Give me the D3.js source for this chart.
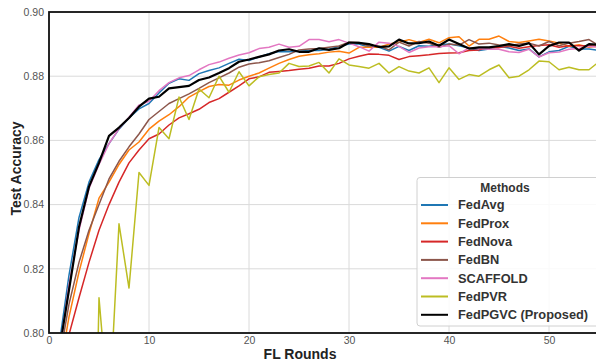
<!DOCTYPE html>
<html><head><meta charset="utf-8">
<script src="https://cdn.jsdelivr.net/npm/d3@7"></script>
<style>html,body{margin:0;padding:0;background:#fff;}svg{display:block;font-family:"Liberation Sans",Arial,sans-serif;}</style>
</head><body>
<svg id="chart" width="596" height="362"></svg>
<script>
const rounds = d3.range(1, 56);
const xTicks = [0, 10, 20, 30, 40, 50];
const yTicks = [0.80, 0.82, 0.84, 0.86, 0.88, 0.90];
const methods = ["FedAvg", "FedProx", "FedNova", "FedBN", "SCAFFOLD", "FedPVR", "FedPGVC (Proposed)"];
const colors = ["#1f77b4", "#ff7f0e", "#d62728", "#8c564b", "#e377c2", "#bcbd22", "#000000"];

const fedAvg = [0.796,0.818,0.836,0.847,0.854,0.859,0.8635,0.867,0.8698,0.8715,0.8748,0.8778,0.8792,0.8787,0.8808,0.8818,0.8826,0.884,0.8853,0.8849,0.886,0.887,0.8877,0.8876,0.8878,0.888,0.888,0.8884,0.8893,0.890,0.890,0.889,0.889,0.8878,0.8893,0.888,0.8895,0.8893,0.8898,0.890,0.8895,0.8888,0.888,0.8885,0.8893,0.8888,0.888,0.8885,0.886,0.8876,0.888,0.8893,0.8885,0.8885,0.888];
const fedProx = [0.787,0.805,0.819,0.831,0.842,0.847,0.8525,0.857,0.8595,0.8635,0.866,0.868,0.8705,0.8735,0.8752,0.8768,0.8774,0.8772,0.8788,0.880,0.881,0.8825,0.884,0.8852,0.8862,0.8867,0.887,0.8875,0.8878,0.8872,0.889,0.889,0.889,0.890,0.8906,0.8914,0.8905,0.8915,0.8904,0.892,0.8923,0.8894,0.8915,0.8915,0.8925,0.8908,0.8905,0.891,0.8915,0.891,0.8903,0.8893,0.8898,0.889,0.8895];
const fedNova = [0.775,0.7995,0.811,0.822,0.832,0.840,0.847,0.853,0.857,0.8605,0.862,0.8648,0.867,0.8683,0.8697,0.8718,0.873,0.875,0.877,0.8792,0.8798,0.8812,0.8815,0.8818,0.8822,0.8825,0.8832,0.8832,0.884,0.8854,0.8862,0.8869,0.8868,0.8865,0.8852,0.8861,0.8864,0.8867,0.8871,0.8872,0.8873,0.888,0.8882,0.8889,0.8889,0.8893,0.8887,0.8892,0.8896,0.8898,0.889,0.8895,0.8895,0.8896,0.890];
const fedBN = [0.791,0.809,0.822,0.832,0.840,0.848,0.8535,0.858,0.862,0.8665,0.869,0.8715,0.873,0.8745,0.8762,0.878,0.8795,0.881,0.8828,0.8838,0.8842,0.8848,0.8858,0.8868,0.8882,0.8885,0.8886,0.889,0.8894,0.8906,0.8905,0.8894,0.8894,0.8882,0.8906,0.8894,0.8908,0.8903,0.889,0.890,0.8897,0.8914,0.890,0.8903,0.8897,0.8895,0.890,0.8903,0.8894,0.8908,0.8895,0.8903,0.8908,0.8914,0.8895];
const scaffold = [0.793,0.815,0.832,0.845,0.8525,0.859,0.8637,0.8672,0.871,0.8722,0.8755,0.878,0.8795,0.8802,0.882,0.8836,0.8844,0.8856,0.8866,0.8873,0.8886,0.889,0.890,0.889,0.8893,0.8914,0.8914,0.8907,0.8914,0.8903,0.8892,0.8878,0.8906,0.8903,0.8893,0.8874,0.8888,0.8892,0.8892,0.8895,0.887,0.8888,0.8886,0.8884,0.8884,0.8876,0.8874,0.8884,0.886,0.8873,0.8875,0.8884,0.8886,0.8893,0.889];
const fedPVR = [0.62,0.64,0.65,0.66,0.811,0.774,0.834,0.814,0.850,0.846,0.864,0.8605,0.8735,0.8665,0.876,0.8733,0.880,0.875,0.8814,0.877,0.8798,0.8805,0.881,0.884,0.883,0.8832,0.8843,0.881,0.8854,0.8835,0.883,0.8825,0.884,0.881,0.883,0.8816,0.881,0.8826,0.878,0.8826,0.879,0.8805,0.880,0.882,0.8835,0.8795,0.880,0.882,0.8847,0.8845,0.882,0.8828,0.882,0.882,0.8845];
const fedPGVC = [0.794,0.8134,0.833,0.8456,0.853,0.8614,0.864,0.867,0.8705,0.873,0.8736,0.8762,0.8766,0.877,0.8788,0.8796,0.881,0.8825,0.8845,0.8852,0.886,0.8868,0.888,0.8884,0.8876,0.8876,0.8887,0.8882,0.8887,0.8905,0.8904,0.890,0.8891,0.8893,0.8914,0.8902,0.8903,0.8908,0.8895,0.8914,0.890,0.8886,0.889,0.889,0.8894,0.890,0.8894,0.8903,0.8868,0.8894,0.8905,0.8905,0.888,0.890,0.8898];
const seriesValues = [fedAvg, fedProx, fedNova, fedBN, scaffold, fedPVR, fedPGVC];

const svg = d3.select("#chart");
const pL = 49, pR = 599, pT = 12, pB = 333;
const x = d3.scaleLinear().domain([0, 55]).range([pL, pR]);
const y = d3.scaleLinear().domain([0.80, 0.90]).range([pB, pT]);

svg.append("defs").append("clipPath").attr("id", "clip")
  .append("rect").attr("x", pL).attr("y", pT).attr("width", pR - pL).attr("height", pB - pT);

// grid
const grid = svg.append("g");
grid.selectAll(".gx").data(xTicks).join("line")
  .attr("x1", d => x(d)).attr("x2", d => x(d)).attr("y1", pT).attr("y2", pB)
  .attr("stroke", "#dadada").attr("stroke-width", 1);
grid.selectAll(".gy").data(yTicks).join("line")
  .attr("x1", pL).attr("x2", pR).attr("y1", d => y(d)).attr("y2", d => y(d))
  .attr("stroke", "#dadada").attr("stroke-width", 1);

// lines
const line = d3.line().x((d, i) => x(rounds[i])).y(d => y(d));
const lines = svg.append("g").attr("clip-path", "url(#clip)");
seriesValues.forEach((vals, k) => {
  lines.append("path").datum(vals)
    .attr("d", line).attr("fill", "none")
    .attr("stroke", colors[k])
    .attr("stroke-width", k === 6 ? 2.2 : 1.5)
    .attr("stroke-linejoin", "round");
});

// frame
svg.append("rect").attr("x", pL).attr("y", pT).attr("width", pR - pL).attr("height", pB - pT)
  .attr("fill", "none").attr("stroke", "#111").attr("stroke-width", 1.8);

// axes
const xAxis = svg.append("g").attr("transform", `translate(0,${pB})`)
  .call(d3.axisBottom(x).tickValues(xTicks).tickSize(0).tickPadding(4));
const yAxis = svg.append("g").attr("transform", `translate(${pL},0)`)
  .call(d3.axisLeft(y).tickValues(yTicks).tickFormat(d3.format(".2f")).tickSize(0).tickPadding(5));
[xAxis, yAxis].forEach(a => {
  a.select(".domain").remove();
  a.selectAll("text").attr("fill", "#555").attr("font-size", 10.5)
    .attr("font-family", "'Liberation Sans', Arial, sans-serif");
});

svg.append("text").attr("x", 300).attr("y", 359)
  .attr("text-anchor", "middle").attr("font-weight", "bold").attr("font-size", 14).attr("fill", "#222")
  .text("FL Rounds");
svg.append("text").attr("transform", `translate(21,${(pT + pB) / 2 - 4}) rotate(-90)`)
  .attr("text-anchor", "middle").attr("font-weight", "bold").attr("font-size", 14).attr("fill", "#222")
  .text("Test Accuracy");

// legend
const lg = svg.append("g");
lg.append("rect").attr("x", 417).attr("y", 177.5).attr("width", 190).attr("height", 148.5)
  .attr("rx", 3).attr("fill", "#fff").attr("fill-opacity", 0.85)
  .attr("stroke", "#d0d0d0").attr("stroke-width", 1);
lg.append("text").attr("x", 505).attr("y", 192).attr("text-anchor", "middle")
  .attr("font-weight", "bold").attr("font-size", 12).attr("fill", "#333").text("Methods");
methods.forEach((m, k) => {
  const yy = 205 + k * 18.3;
  lg.append("line").attr("x1", 421).attr("x2", 448).attr("y1", yy).attr("y2", yy)
    .attr("stroke", colors[k]).attr("stroke-width", 2);
  lg.append("text").attr("x", 458).attr("y", yy).attr("dy", "0.35em")
    .attr("font-weight", "bold").attr("font-size", 12.8).attr("fill", "#333").text(m);
});
</script>
</body></html>
